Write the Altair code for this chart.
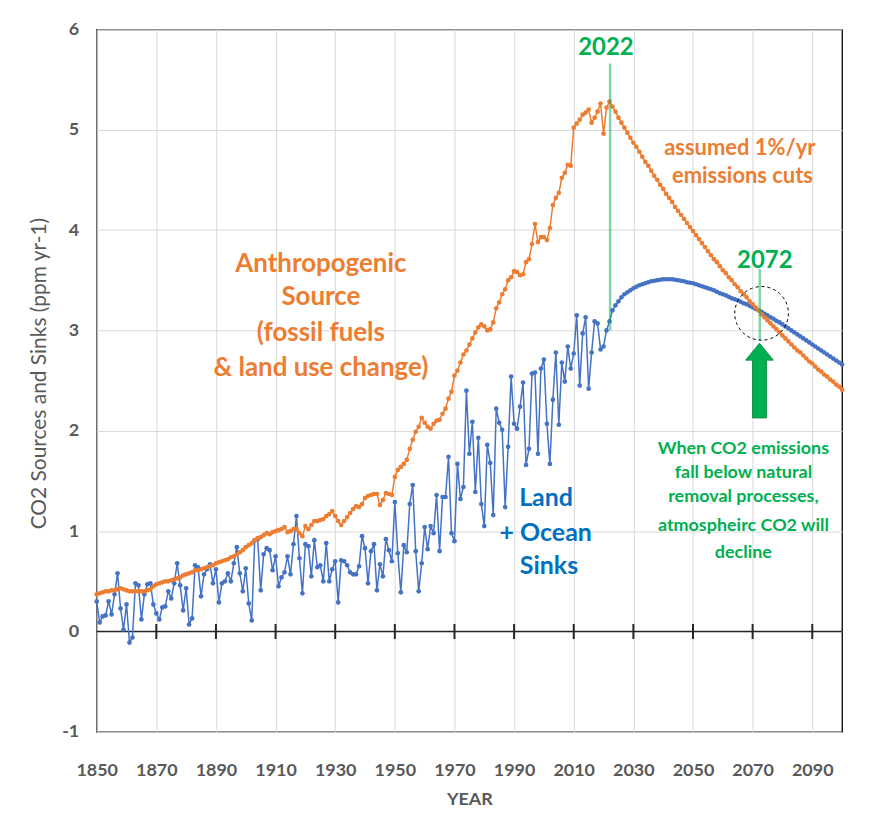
import altair as alt
import pandas as pd

# ---------------- data ----------------
years_hist = list(range(1850, 2023))
years_proj = list(range(2023, 2101))

source_hist = [
    0.37, 0.38, 0.39, 0.40, 0.40, 0.41, 0.41, 0.42, 0.43, 0.42,
    0.41, 0.40, 0.40, 0.40, 0.40, 0.40, 0.40, 0.41, 0.42, 0.45,
    0.47, 0.48, 0.49, 0.50, 0.50, 0.51, 0.52, 0.53, 0.54, 0.56,
    0.57, 0.58, 0.59, 0.61, 0.61, 0.62, 0.63, 0.64, 0.65, 0.66,
    0.68, 0.69, 0.70, 0.71, 0.72, 0.74, 0.75, 0.77, 0.79, 0.81,
    0.84, 0.86, 0.88, 0.91, 0.93, 0.94, 0.96, 0.98, 0.97, 0.99,
    1.00, 1.01, 1.02, 1.04, 0.99, 1.00, 1.02, 1.02, 0.98, 0.95,
    1.05, 1.02, 1.06, 1.10, 1.10, 1.11, 1.12, 1.15, 1.17, 1.20,
    1.15, 1.10, 1.06, 1.10, 1.14, 1.18, 1.22, 1.25, 1.24, 1.27,
    1.33, 1.35, 1.36, 1.37, 1.37, 1.26, 1.31, 1.38, 1.37, 1.36,
    1.54, 1.61, 1.64, 1.67, 1.71, 1.82, 1.91, 1.99, 2.04, 2.13,
    2.08, 2.04, 2.02, 2.07, 2.10, 2.11, 2.17, 2.22, 2.32, 2.39,
    2.55, 2.60, 2.68, 2.76, 2.80, 2.86, 2.92, 2.98, 3.03, 3.06,
    3.04, 3.00, 3.01, 3.08, 3.22, 3.28, 3.36, 3.41, 3.50, 3.53,
    3.59, 3.58, 3.55, 3.56, 3.68, 3.71, 3.86, 4.06, 3.88, 3.93,
    3.93, 3.90, 4.02, 4.25, 4.32, 4.37, 4.52, 4.57, 4.65, 4.64,
    5.02, 5.06, 5.10, 5.15, 5.17, 5.20, 5.07, 5.12, 5.18, 5.26,
    4.96, 5.22, 5.28,
]

sink_hist = [
    0.30, 0.09, 0.15, 0.16, 0.30, 0.17, 0.37, 0.58, 0.23, 0.02,
    0.27, -0.11, -0.06, 0.48, 0.46, 0.12, 0.37, 0.47, 0.48, 0.27,
    0.18, 0.12, 0.24, 0.25, 0.40, 0.33, 0.48, 0.68, 0.46, 0.21,
    0.43, 0.07, 0.13, 0.66, 0.64, 0.35, 0.57, 0.62, 0.67, 0.48,
    0.62, 0.29, 0.48, 0.50, 0.58, 0.50, 0.68, 0.84, 0.58, 0.40,
    0.63, 0.28, 0.11, 0.91, 0.92, 0.41, 0.77, 0.83, 0.81, 0.61,
    0.75, 0.45, 0.54, 0.59, 0.75, 0.57, 0.87, 1.15, 0.73, 0.38,
    0.87, 0.85, 0.55, 0.91, 0.64, 0.66, 0.50, 0.88, 0.50, 0.62,
    0.70, 0.29, 0.71, 0.70, 0.66, 0.59, 0.57, 0.57, 0.65, 0.95,
    0.83, 0.48, 0.80, 0.87, 0.41, 0.67, 0.55, 0.92, 0.81, 0.70,
    1.29, 0.78, 0.39, 0.86, 0.79, 1.27, 1.46, 0.80, 0.40, 0.68,
    1.04, 0.82, 1.05, 0.98, 1.36, 0.80, 1.34, 1.34, 1.74, 0.98,
    0.90, 1.67, 1.32, 1.44, 2.40, 1.77, 2.09, 1.39, 1.93, 1.27,
    1.05, 1.86, 1.68, 1.16, 2.22, 2.08, 2.01, 1.24, 1.84, 2.54,
    2.07, 2.02, 2.24, 2.48, 1.66, 1.82, 2.57, 2.58, 1.77, 2.62,
    2.71, 2.07, 1.67, 2.31, 2.78, 2.06, 2.68, 2.49, 2.84, 2.62,
    2.77, 3.15, 2.45, 2.97, 3.13, 2.42, 2.78, 3.09, 3.07, 2.81,
    2.84, 3.00, 3.09,
]

source_proj = [
    5.23, 5.18, 5.12, 5.07, 5.02, 4.97, 4.92, 4.87,
    4.83, 4.78, 4.73, 4.68, 4.64, 4.59, 4.54, 4.50, 4.45, 4.41,
    4.36, 4.32, 4.28, 4.23, 4.19, 4.15, 4.11, 4.07, 4.03, 3.99,
    3.95, 3.91, 3.87, 3.83, 3.79, 3.75, 3.71, 3.68, 3.64, 3.60,
    3.57, 3.53, 3.50, 3.46, 3.43, 3.39, 3.36, 3.33, 3.29, 3.26,
    3.23, 3.20, 3.16, 3.13, 3.10, 3.07, 3.04, 3.01, 2.98, 2.95,
    2.92, 2.89, 2.86, 2.83, 2.80, 2.78, 2.75, 2.72, 2.69, 2.67,
    2.64, 2.61, 2.59, 2.56, 2.54, 2.51, 2.49, 2.46, 2.44, 2.41,
]

sink_proj = [
    3.20, 3.25, 3.29, 3.33, 3.36, 3.38, 3.40, 3.42,
    3.435, 3.45, 3.46, 3.47, 3.48, 3.49, 3.495, 3.50, 3.505, 3.51,
    3.51, 3.51, 3.51, 3.505, 3.50, 3.495, 3.49, 3.48, 3.475, 3.47,
    3.46, 3.45, 3.44, 3.43, 3.42, 3.41, 3.40, 3.385, 3.37, 3.36,
    3.35, 3.335, 3.32, 3.31, 3.30, 3.285, 3.27, 3.26, 3.245, 3.23,
    3.215, 3.20, 3.185, 3.165, 3.15, 3.13, 3.115, 3.095, 3.08, 3.06,
    3.04, 3.02, 3.00, 2.98, 2.96, 2.94, 2.92, 2.90, 2.88, 2.86,
    2.84, 2.82, 2.80, 2.78, 2.76, 2.74, 2.72, 2.70, 2.68, 2.66,
]

x_ticks = list(range(1850, 2101, 10))
y_ticks = list(range(-1, 7))
zero_tick_years = list(range(1870, 2100, 20))

# ---------------- styles ----------------
ORANGE = "#ED7D31"
BLUE = "#4472C4"
TEXT_BLUE = "#0070C0"
GREEN = "#00B050"
GRAY = "#595959"
FONT = "Lato"

years = years_hist + years_proj
src = pd.DataFrame({"year": years, "value": source_hist + source_proj})
snk = pd.DataFrame({"year": years, "value": sink_hist + sink_proj})

x_scale = alt.Scale(domain=[1850, 2100], nice=False, zero=False)
y_scale = alt.Scale(domain=[-1, 6], nice=False, zero=False)

x_axis = alt.Axis(
    values=x_ticks, format="d",
    labelExpr="datum.value % 20 == 10 ? datum.label : ''",
    grid=True, gridColor="#D9D9D9", gridWidth=1, ticks=False, domain=False,
    labelFont=FONT, labelFontSize=18, labelFontWeight="bold", labelColor=GRAY,
    labelPadding=30, labelFlush=False,
    title="YEAR", titleFont=FONT, titleFontSize=18, titleFontWeight="bold",
    titleColor=GRAY, titleY=68, titleBaseline="middle",
)
y_axis = alt.Axis(
    values=y_ticks,
    labelExpr="datum.value < 0 ? '-' + format(-datum.value, 'd') : format(datum.value, 'd')",
    grid=True, gridColor="#D9D9D9", gridWidth=1,
    ticks=False, domain=False,
    labelFont=FONT, labelFontSize=18, labelFontWeight="bold", labelColor=GRAY,
    labelPadding=18,
    title="CO2 Sources and Sinks (ppm yr-1)", titleFont=FONT, titleFontSize=21,
    titleFontWeight="normal", titleColor=GRAY, titleX=-57, titleY=345,
    titleAngle=270, titleAlign="center", titleBaseline="middle",
)

sink_line = alt.Chart(snk).mark_line(
    color=BLUE, strokeWidth=1.5,
    point=alt.OverlayMarkDef(size=22, filled=True, color=BLUE, opacity=1),
).encode(
    x=alt.X("year:Q", scale=x_scale, axis=x_axis),
    y=alt.Y("value:Q", scale=y_scale, axis=y_axis),
)

source_line = alt.Chart(src).mark_line(
    color=ORANGE, strokeWidth=1.5,
    point=alt.OverlayMarkDef(size=22, filled=True, color=ORANGE, opacity=1),
).encode(x="year:Q", y="value:Q")

zero_line = alt.Chart(pd.DataFrame({"y": [0]})).mark_rule(
    color="#262626", strokeWidth=1.5
).encode(y="y:Q")

zero_ticks = alt.Chart(pd.DataFrame({"year": zero_tick_years})).mark_rule(
    color="#262626", strokeWidth=2
).encode(x="year:Q", y=alt.datum(-0.075), y2=alt.datum(0.075))

green_rules = alt.Chart(pd.DataFrame({
    "x": [2022.2, 2072.4], "y": [3.0, 2.90], "y2": [5.66, 3.61]
})).mark_rule(color=GREEN, opacity=0.5, strokeWidth=2.5).encode(
    x="x:Q", y="y:Q", y2="y2:Q"
)

circle = alt.Chart(pd.DataFrame({"x": [2073.0], "y": [3.17]})).mark_point(
    shape="circle", size=2900, filled=False, color="black",
    strokeWidth=1, strokeDash=[3, 3], opacity=1
).encode(x="x:Q", y="y:Q")

ARROW = ("M 0 -1 L 0.373 -0.547 L 0.187 -0.547 L 0.187 1 "
         "L -0.187 1 L -0.187 -0.547 L -0.373 -0.547 Z")
arrow = alt.Chart(pd.DataFrame({"x": [2072.3], "y": [2.50]})).mark_point(
    shape=ARROW, size=5625, filled=True, color=GREEN, opacity=1,
    stroke="#00873C", strokeWidth=0.8
).encode(x="x:Q", y="y:Q")


def text_layer(lines, xs, ys, color, size, weight="bold"):
    d = pd.DataFrame({"t": lines, "x": xs, "y": ys})
    return alt.Chart(d).mark_text(
        font=FONT, fontSize=size, fontWeight=weight, color=color,
        align="center", baseline="middle"
    ).encode(x="x:Q", y="y:Q", text="t:N")


anthro = text_layer(
    ["Anthropogenic", "Source", "(fossil fuels", "& land use change)"],
    [1925.2] * 4, [3.66, 3.33, 2.97, 2.63], ORANGE, 26)
cuts = text_layer(["assumed 1%/yr", "emissions cuts"],
                  [2065.7, 2066.6], [4.82, 4.54], ORANGE, 22)
sinks = text_layer(["Land", "+ Ocean", "Sinks"],
                   [2000.7, 2000.6, 2001.7], [1.33, 0.98, 0.65], TEXT_BLUE, 25)
note = text_layer(
    ["When CO2 emissions", "fall below natural", "removal processes,",
     "atmospheirc CO2 will", "decline"],
    [2066.9] * 5, [1.82, 1.58, 1.34, 1.05, 0.78], GREEN, 18)
yr_labels = text_layer(["2022", "2072"], [2020.8, 2074.1], [5.81, 3.69], GREEN, 24)

chart = alt.layer(
    zero_line, zero_ticks, sink_line, source_line, green_rules, circle, arrow,
    anthro, cuts, sinks, note, yr_labels,
).properties(
    width=748, height=705,
    autosize=alt.AutoSizeParams(type="none"),
    padding={"left": 89, "top": 20, "right": 20, "bottom": 75},
    background="white",
).configure_view(
    stroke="black", strokeWidth=1.3
)

chart.save("out.html", embed_options={"renderer": "svg", "actions": False})
